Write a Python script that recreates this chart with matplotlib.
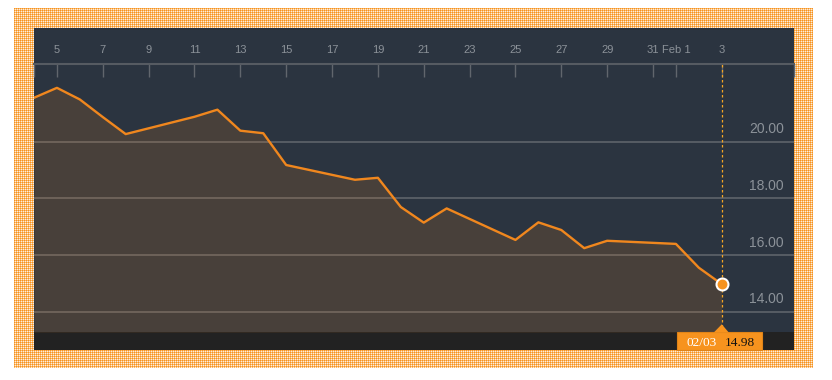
import numpy as np
import matplotlib
matplotlib.use("Agg")
import matplotlib.pyplot as plt
from matplotlib.patches import Rectangle, Polygon

plt.rcParams['font.family'] = ['Liberation Sans', 'DejaVu Sans']

# ---- data (day numbers counted from Jan 1; Feb 1 = 32) ----
days = [4, 5, 6, 7, 8, 11, 12, 13, 14, 15, 18, 19, 20, 21, 22,
        25, 26, 27, 28, 29, 32, 33, 34]
values = [21.55, 21.90, 21.49, 20.87, 20.27, 20.88, 21.13, 20.39, 20.30,
          19.18, 18.66, 18.73, 17.70, 17.15, 17.65, 16.54, 17.16, 16.89,
          16.25, 16.51, 16.40, 15.56, 14.98]
tick_pos = [5, 7, 9, 11, 13, 15, 17, 19, 21, 23, 25, 27, 29, 31, 32, 34]
tick_labels = ['5', '7', '9', '11', '13', '15', '17', '19', '21', '23',
               '25', '27', '29', '31', 'Feb 1', '3']
y_ticks = [14, 16, 18, 20]
y_labels = ['14.00', '16.00', '18.00', '20.00']
last_date_label = '02/03'
last_value_label = '14.98'

# ---- styling ----
W, H = 832, 380
ORANGE = '#F7931E'
LINE = '#F0871E'
PANEL = '#2B3440'
STRIP = '#222222'
GRID = '#575d65'
TXT = '#8C9299'

fig = plt.figure(figsize=(W / 100, H / 100), dpi=100)
fig.patch.set_facecolor('white')

# dotted orange frame
img = np.ones((H, W, 3))
yy, xx = np.mgrid[0:H, 0:W]
border = (xx >= 14) & (xx < 813) & (yy >= 8) & (yy < 368)
orange = np.array([247, 147, 30]) / 255.0
ex = (xx - 14) % 2 == 0
ey = (yy - 8) % 2 == 0
full = border & ex & ey
half = border & (ex ^ ey)
img[full] = orange
img[half] = 0.65 * orange + 0.35
img[border & ~ex & ~ey] = 0.15 * orange + 0.85
fig.figimage(img, 0, 0, zorder=0)


def frect(x0, y0, x1, y1, **kw):
    r = Rectangle((x0 / W, 1 - y1 / H), (x1 - x0) / W, (y1 - y0) / H,
                  transform=fig.transFigure, **kw)
    fig.add_artist(r)
    return r


frect(34, 28, 794, 350, facecolor=PANEL, edgecolor='none', zorder=1)
frect(34, 332, 794, 350, facecolor=STRIP, edgecolor='none', zorder=1)

ax = fig.add_axes([34 / W, 1 - 332 / H, 760 / W, 268 / H])
ax.set_zorder(2)
ax.set_facecolor(PANEL)
ax.set_xlim(4.0, 37.15)
ax.set_ylim(13.295, 22.74)

for v in y_ticks:
    ax.axhline(v, color=GRID, lw=1.4, zorder=1)

ybot = ax.get_ylim()[0]
ax.fill_between(days, values, ybot, color=LINE, alpha=0.15, lw=0, zorder=2)
ax.plot(days, values, color=LINE, lw=1.7, zorder=3)
ax.axvline(days[-1], color='#F5A623', lw=0.9, ls=(0, (2, 2)), zorder=3)
ax.plot(days[-1], values[-1], 'o', ms=8.6, mfc=ORANGE, mec='white',
        mew=1.5, zorder=5, clip_on=False)

for v, lab in zip(y_ticks, y_labels):
    ax.annotate(lab, xy=(1, v), xycoords=ax.get_yaxis_transform(),
                xytext=(-7.2, 9.1), textcoords='offset points',
                ha='right', va='center', color=TXT, fontsize=10)

ax.xaxis.tick_top()
ax.set_xticks(tick_pos)
ax.set_xticklabels(tick_labels)
ax.set_xticks(list(ax.get_xlim()), minor=True)
ax.tick_params(axis='x', which='both', direction='in', length=9.4,
               width=1.0, color='#61666d', labelsize=8, labelcolor=TXT,
               pad=6.5)
ax.set_yticks([])
for s in ['left', 'right', 'bottom']:
    ax.spines[s].set_visible(False)
ax.spines['top'].set_color('#565b62')
ax.spines['top'].set_linewidth(1.5)

# value tag at the last point
fig.canvas.draw()
px = ax.transData.transform((days[-1], values[-1]))[0]
frect(px - 44.6, 332, px + 40.4, 350, facecolor=ORANGE, edgecolor='#E08418',
      lw=0.8, zorder=4)
tri = Polygon([((px - 8) / W, 1 - 332.5 / H), ((px + 7) / W, 1 - 332.5 / H),
               (px / W, 1 - 324.3 / H)], closed=True,
              transform=fig.transFigure, facecolor=ORANGE, edgecolor='none',
              zorder=4)
fig.add_artist(tri)
fig.text((px - 20) / W, 1 - 342.5 / H, last_date_label, color='white',
         ha='center', va='center', fontsize=9.6,
         family=['Liberation Serif', 'DejaVu Serif'], zorder=6)
fig.text((px + 17.7) / W, 1 - 342.5 / H, last_value_label, color='#111111',
         ha='center', va='center', fontsize=9.6,
         family=['Liberation Serif', 'DejaVu Serif'], zorder=6)

fig.savefig('out.png', dpi=100)
